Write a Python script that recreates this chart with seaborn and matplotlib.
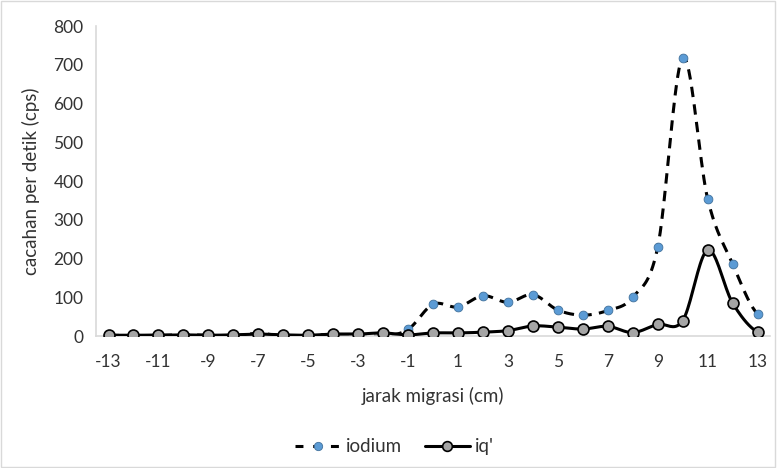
import numpy as np
import pandas as pd
import matplotlib.pyplot as plt
import seaborn as sns
from matplotlib.lines import Line2D
from matplotlib.patches import Rectangle

# jarak migrasi (cm)
jarak = list(range(-13, 14))
# cacahan per detik (cps)
iodium = [2, 1, 2, 3, 2, 0, 7, 0, 2, 4, 3, 0, 17,
          82, 75, 104, 87, 107, 67, 54, 66, 100, 230, 719, 354, 186, 57]
iq = [2, 2, 2, 3, 2, 3, 5, 3, 2, 5, 5, 8, 3,
      8, 8, 10, 14, 26, 23, 18, 25, 9, 30, 40, 222, 85, 10]
x_ticks = list(range(-13, 14, 2))


def smooth(x, y, n=20):
    # Excel-style smoothed line (uniform Catmull-Rom)
    x = np.asarray(x, float)
    y = np.asarray(y, float)
    px = np.concatenate([[2 * x[0] - x[1]], x, [2 * x[-1] - x[-2]]])
    py = np.concatenate([[y[0]], y, [y[-1]]])
    xs, ys = [], []
    t = np.linspace(0, 1, n, endpoint=False)
    for i in range(1, len(px) - 2):
        p0, p1, p2, p3 = py[i - 1], py[i], py[i + 1], py[i + 2]
        q0, q1, q2, q3 = px[i - 1], px[i], px[i + 1], px[i + 2]
        b = lambda a0, a1, a2, a3: 0.5 * ((2 * a1) + (-a0 + a2) * t
                                           + (2 * a0 - 5 * a1 + 4 * a2 - a3) * t ** 2
                                           + (-a0 + 3 * a1 - 3 * a2 + a3) * t ** 3)
        xs.append(b(q0, q1, q2, q3))
        ys.append(b(p0, p1, p2, p3))
    xs.append([x[-1]])
    ys.append([y[-1]])
    return np.concatenate(xs), np.concatenate(ys)


sns.set_style("white")
plt.rcParams['font.family'] = ['Lato', 'DejaVu Sans']

fig = plt.figure(figsize=(7.77, 4.68), dpi=100)
ax = fig.add_axes([0.1236, 0.282, 0.8675, 0.662])

blue = "#5B9BD5"
grey = "#A5A5A5"
txt = "#333333"

sx, sy = smooth(jarak, iodium)
ax.plot(sx, sy, color="black", lw=2.2, dashes=(3.4, 2.4), zorder=2)
sx2, sy2 = smooth(jarak, iq)
ax.plot(sx2, sy2, color="black", lw=2.2, zorder=3)

df = pd.DataFrame({"jarak": jarak, "iodium": iodium, "iq": iq})
sns.scatterplot(data=df, x="jarak", y="iodium", ax=ax, color=blue, s=40,
                edgecolor="#41719C", linewidth=0.6, zorder=4)
sns.scatterplot(data=df, x="jarak", y="iq", ax=ax, color=grey, s=62,
                edgecolor="black", linewidth=1.2, zorder=5)

ax.set_xlim(-13.5, 13.5)
ax.set_ylim(0, 800)
ax.set_xticks(x_ticks)
ax.set_xticklabels([str(v) for v in x_ticks])
ax.set_yticks(range(0, 801, 100))
ax.tick_params(axis="both", labelsize=12.5, length=0, colors=txt)
ax.tick_params(axis="x", pad=13)
ax.tick_params(axis="y", pad=9)
ax.set_xlabel("jarak migrasi (cm)", fontsize=13.5, color=txt, labelpad=12)
ax.set_ylabel("cacahan per detik (cps)", fontsize=13.5, color=txt, labelpad=10)
for s in ["top", "right"]:
    ax.spines[s].set_visible(False)
for s in ["left", "bottom"]:
    ax.spines[s].set_color("#D9D9D9")
    ax.spines[s].set_linewidth(1.2)

handles = [
    Line2D([], [], color="black", lw=2.2, dashes=(2.6, 3.2), marker="o",
           markersize=6, markerfacecolor=blue, markeredgecolor="#41719C",
           markeredgewidth=0.6),
    Line2D([], [], color="black", lw=2.2, marker="o", markersize=7,
           markerfacecolor=grey, markeredgecolor="black", markeredgewidth=1.2),
]
fig.legend(handles, ["iodium", "iq'"], loc="center", bbox_to_anchor=(0.508, 0.045),
           ncol=2, frameon=False, fontsize=13.5, handlelength=2.4, columnspacing=1.2,
           handletextpad=0.3, labelcolor=txt)

fig.patches.append(Rectangle((0.001, 0.002), 0.997, 0.996, transform=fig.transFigure,
                             fill=False, edgecolor="#D9D9D9", lw=1))

fig.savefig("out.png", dpi=100)
